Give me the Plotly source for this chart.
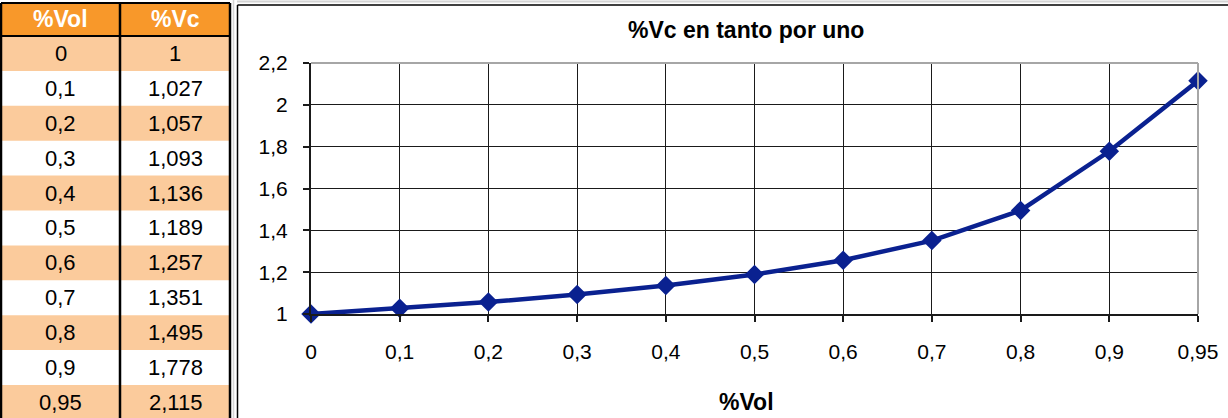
import plotly.graph_objects as go

# ---- data ----
vol = [0, 0.1, 0.2, 0.3, 0.4, 0.5, 0.6, 0.7, 0.8, 0.9, 0.95]
vc = [1, 1.027, 1.057, 1.093, 1.136, 1.189, 1.257, 1.351, 1.495, 1.778, 2.115]
headers = ["%Vol", "%Vc"]
title_text = "%Vc en tanto por uno"
xtitle_text = "%Vol"


def fmt(v):
    return f"{v:g}".replace(".", ",")


vol_labels = [fmt(v) for v in vol]
vc_labels = [fmt(v) for v in vc]

W, H = 1228, 418
FONT = "Liberation Sans, Arial, sans-serif"
NAVY = "#0a2190"
HEAD = "#f8982a"
LIGHT = "#fbcb9c"


def px(x):
    return x / W


def py(y):
    return 1 - y / H


fig = go.Figure()
fig.add_trace(go.Scatter(
    x=vol_labels, y=vc, mode="lines+markers",
    line=dict(color=NAVY, width=4.5),
    marker=dict(symbol="diamond", size=15, color=NAVY),
    cliponaxis=False, hoverinfo="skip",
))

shapes = []
annotations = []

# ---- table ----
col_x = [1, 120, 230]
head_top, head_bot = 3, 36
row_h = 34.9
shapes.append(dict(type="rect", xref="paper", yref="paper", layer="below",
                   x0=px(col_x[0]), x1=px(col_x[2]), y0=py(head_bot), y1=py(head_top),
                   fillcolor=HEAD, line=dict(width=0)))
for j, h in enumerate(headers):
    annotations.append(dict(xref="paper", yref="paper", x=px((col_x[j] + col_x[j + 1]) / 2),
                            y=py((head_top + head_bot) / 2), text=f"<b>{h}</b>", showarrow=False,
                            font=dict(family=FONT, size=23, color="white"),
                            xanchor="center", yanchor="middle"))
for i in range(len(vol)):
    top = head_bot + i * row_h
    bot = min(top + row_h, H)
    if i % 2 == 0:
        shapes.append(dict(type="rect", xref="paper", yref="paper", layer="below",
                           x0=px(col_x[0]), x1=px(col_x[2]), y0=py(bot), y1=py(top),
                           fillcolor=LIGHT, line=dict(width=0)))
    cy = top + row_h / 2
    for j, t in enumerate([vol_labels[i], vc_labels[i]]):
        annotations.append(dict(xref="paper", yref="paper", x=px((col_x[j] + col_x[j + 1]) / 2),
                                y=py(cy), text=t, showarrow=False,
                                font=dict(family=FONT, size=22, color="black"),
                                xanchor="center", yanchor="middle"))
for cx in col_x:
    shapes.append(dict(type="line", xref="paper", yref="paper",
                       x0=px(cx), x1=px(cx), y0=py(H), y1=py(head_top),
                       line=dict(color="black", width=2.5)))
for yy in (head_top, head_bot):
    shapes.append(dict(type="line", xref="paper", yref="paper",
                       x0=px(col_x[0]), x1=px(col_x[2]), y0=py(yy), y1=py(yy),
                       line=dict(color="black", width=2)))

# sheet gridlines / chart frame
shapes.append(dict(type="line", xref="paper", yref="paper", x0=px(233.5), x1=px(233.5),
                   y0=0, y1=1, line=dict(color="#d4d4d4", width=1.5)))
shapes.append(dict(type="line", xref="paper", yref="paper", x0=px(237), x1=1,
                   y0=py(1.5), y1=py(1.5), line=dict(color="#d4d4d4", width=2)))
shapes.append(dict(type="line", xref="paper", yref="paper", x0=px(237.5), x1=px(237.5),
                   y0=0, y1=py(5), line=dict(color="black", width=1.5)))
shapes.append(dict(type="line", xref="paper", yref="paper", x0=px(237.5), x1=1,
                   y0=py(5), y1=py(5), line=dict(color="black", width=1.5)))

# plot area geometry
PL, PR, PT, PB = 311, 1198, 63, 314
shapes.append(dict(type="line", xref="paper", yref="paper", x0=px(PL), x1=px(PR),
                   y0=py(PT), y1=py(PT), line=dict(color="#a6a6a6", width=2)))
shapes.append(dict(type="line", xref="paper", yref="paper", x0=px(PR), x1=px(PR),
                   y0=py(PB), y1=py(PT), line=dict(color="#a6a6a6", width=2)))

annotations.append(dict(xref="paper", yref="paper", x=px(746), y=py(30),
                        text=f"<b>{title_text}</b>", showarrow=False,
                        font=dict(family=FONT, size=23, color="black"),
                        xanchor="center", yanchor="middle"))
annotations.append(dict(xref="paper", yref="paper", x=px(746), y=py(402),
                        text=f"<b>{xtitle_text}</b>", showarrow=False,
                        font=dict(family=FONT, size=23, color="black"),
                        xanchor="center", yanchor="middle"))

fig.update_layout(
    width=W, height=H, autosize=False,
    margin=dict(l=0, r=0, t=0, b=0, pad=0, autoexpand=False),
    paper_bgcolor="white", plot_bgcolor="white",
    showlegend=False, separators=",.",
    font=dict(family=FONT, size=21, color="black"),
    shapes=shapes, annotations=annotations,
    xaxis=dict(
        domain=[px(PL), px(PR)], type="category", range=[0, len(vol) - 1],
        automargin=False,
        showgrid=True, gridcolor="#1a1a1a", gridwidth=1,
        showline=True, linecolor="#1a1a1a", linewidth=2,
        ticks="outside", ticklen=6, tickcolor="#1a1a1a", tickwidth=1.5,
        ticklabelstandoff=12, zeroline=False,
        tickfont=dict(family=FONT, size=21, color="black"),
    ),
    yaxis=dict(
        domain=[py(PB), py(PT)], range=[1, 2.2], tickmode="linear", tick0=1, dtick=0.2,
        automargin=False,
        showgrid=True, gridcolor="#1a1a1a", gridwidth=1,
        showline=True, linecolor="#1a1a1a", linewidth=2,
        ticks="outside", ticklen=6, tickcolor="#1a1a1a", tickwidth=1.5,
        ticklabelstandoff=11, zeroline=False,
        tickfont=dict(family=FONT, size=21, color="black"),
    ),
)

fig.write_html(
    "out.html",
    config={"displayModeBar": False},
    post_script="document.body.style.margin='0';document.body.style.overflow='hidden';",
)
